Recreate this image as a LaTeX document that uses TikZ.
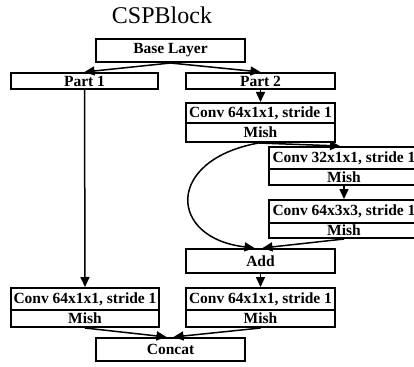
\documentclass[tikz,border=0pt]{standalone}
\usepackage{fontspec}
\setmainfont{Liberation Serif}
\usetikzlibrary{arrows.meta}
\begin{document}
\begin{tikzpicture}[x=1pt,y=-1pt,
  box/.style={draw, line width=2pt, inner sep=0.5pt, anchor=center,
    font=\fontsize{15.5}{16}\selectfont\bfseries},
  link/.style={line width=1.5pt, -{Triangle[length=10pt,width=9pt]}}]
\useasboundingbox (0,0) rectangle (414,366);
\clip (0,0) rectangle (414,366);

\node[font=\fontsize{24}{26}\selectfont] (title) at (162,15) {CSPBlock};

% entry and split
\node[box, minimum width=149pt, minimum height=23pt] (base) at (170.5,50.5) {Base Layer};
\node[box, minimum width=147pt, minimum height=16pt] (part1) at (84.5,81) {Part 1};
\node[box, minimum width=149pt, minimum height=16pt] (part2) at (260.5,81) {Part 2};

% right branch
\node[box, minimum width=149pt, minimum height=20pt] (c1) at (260.5,113) {Conv 64x1x1, stride 1};
\node[box, minimum width=149pt, minimum height=19pt] (m1) at (260.5,132.5) {Mish};

\node[box, minimum width=150pt, minimum height=22pt] (c2) at (344,158) {Conv 32x1x1, stride 1};
\node[box, minimum width=150pt, minimum height=16pt] (m2) at (344,177) {Mish};

\node[box, minimum width=150pt, minimum height=23pt] (c3) at (344,211.5) {Conv 64x3x3, stride 1};
\node[box, minimum width=150pt, minimum height=15pt] (m3) at (344,230.5) {Mish};

\node[box, minimum width=149pt, minimum height=24pt] (add) at (260.5,261) {Add};

% transitions
\node[box, minimum width=148pt, minimum height=22pt] (cl) at (85,299) {Conv 64x1x1, stride 1};
\node[box, minimum width=148pt, minimum height=17pt] (ml) at (85,318.5) {Mish};
\node[box, minimum width=149pt, minimum height=22pt] (cr) at (260.5,299) {Conv 64x1x1, stride 1};
\node[box, minimum width=149pt, minimum height=17pt] (mr) at (260.5,318.5) {Mish};

\node[box, minimum width=149pt, minimum height=23pt] (concat) at (170.5,349.5) {Concat};

% connectors
\draw[link] (base.south) -- (part1.north);
\draw[link] (base.south) -- (part2.north);
\draw[link] (part1.south) -- (cl.north);
\draw[link] (part2.south) -- (c1.north);
\draw[link] ([xshift=-2pt]m1.south) -- ([xshift=-4pt]c2.north);
\draw[link] (m2.south) -- (c3.north);
\draw[link] ([xshift=-2pt]m1.south) .. controls (165,160) and (168,238) .. ([xshift=-6pt]add.north);
\draw[link] (m3.south) -- ([xshift=2pt]add.north);
\draw[link] (add.south) -- (cr.north);
\draw[link] (ml.south) -- ([xshift=-4pt]concat.north);
\draw[link] (mr.south) -- ([xshift=3pt]concat.north);
\end{tikzpicture}
\end{document}
